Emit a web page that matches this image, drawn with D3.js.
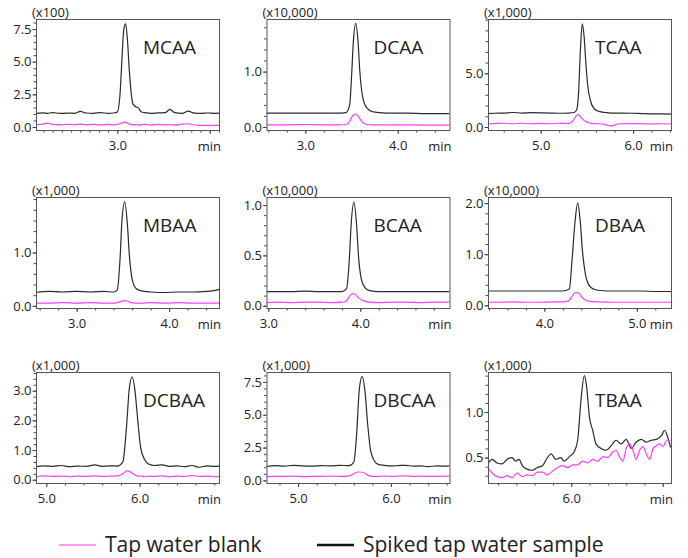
<!DOCTYPE html>
<html>
<head>
<meta charset="utf-8">
<script src="https://cdn.jsdelivr.net/npm/d3@7"></script>
<style>
body { margin: 0; background: #fff; }
text { font-family: "Open Sans", sans-serif; fill: #222; }
</style>
</head>
<body>
<div id="chartDiv"></div>
<script>

var compounds = ["MCAA", "DCAA", "TCAA", "MBAA", "BCAA", "DBAA", "DCBAA", "DBCAA", "TBAA"]
var multipliers = ["(x100)", "(x10,000)", "(x1,000)", "(x1,000)", "(x10,000)", "(x10,000)", "(x1,000)", "(x1,000)", "(x1,000)"]
var legendLabels = ["Tap water blank", "Spiked tap water sample"]

// visible window of each chromatogram (min, intensity)
var xRanges = [[2.12, 4.10], [2.58, 4.56], [4.43, 6.41], [2.56, 4.54], [2.98, 4.97], [3.39, 5.37], [4.89, 6.85], [4.66, 6.63], [5.09, 7.09]]
var yRanges = [[-0.23, 8.27], [-0.054, 1.95], [-0.28, 10.06], [-0.04, 2.04], [-0.023, 1.08], [-0.053, 2.12], [-0.11, 3.63], [-0.2, 8.26], [0.22, 1.44]]

var xTickValues = [[3, 4], [3, 4], [5, 6], [3, 4], [3, 4], [4, 5], [5, 6], [5, 6], [6, 7]]
var xMinorStep = [0.1, 0.2, 0.2, 0.2, 0.2, 0.2, 0.2, 0.2, 0.2]
var yTickValues = [[0, 2.5, 5, 7.5], [0, 1], [0, 5], [0, 1], [0, 0.5, 1], [0, 1, 2], [0, 1, 2, 3], [0, 2.5, 5, 7.5], [0.5, 1]]
var yMinorStep = [0.5, 0.2, 1, 0.2, 0.1, 0.2, 0.2, 0.5, 0.1]

var mcaaTime = [2.12, 2.2, 2.24, 2.3, 2.38, 2.46, 2.54, 2.6, 2.66, 2.74, 2.82, 2.9, 2.96, 3.0, 3.03, 3.05, 3.07, 3.09, 3.11, 3.13, 3.15, 3.17, 3.2, 3.23, 3.26, 3.3, 3.36, 3.44, 3.52, 3.57, 3.62, 3.7, 3.77, 3.82, 3.9, 3.98, 4.05, 4.1]
var mcaaSpiked = [1.05, 1.08, 1.04, 1.1, 1.04, 1.06, 1.05, 1.2, 1.07, 1.05, 1.1, 1.04, 1.07, 1.15, 2.6, 5.2, 7.5, 7.9, 6.6, 4.3, 2.6, 1.75, 1.55, 1.45, 1.15, 1.1, 1.05, 1.08, 1.1, 1.35, 1.1, 1.05, 1.22, 1.08, 1.04, 1.07, 1.05, 1.06]
var mcaaBlank = [0.18, 0.22, 0.3, 0.2, 0.17, 0.2, 0.18, 0.22, 0.17, 0.2, 0.16, 0.2, 0.17, 0.2, 0.25, 0.3, 0.35, 0.38, 0.3, 0.22, 0.2, 0.17, 0.2, 0.15, 0.18, 0.2, 0.15, 0.2, 0.17, 0.18, 0.15, 0.22, 0.25, 0.17, 0.12, 0.12, 0.12, 0.12]

var dcaaTime = [2.58, 2.8, 3.0, 3.2, 3.35, 3.44, 3.48, 3.5, 3.52, 3.545, 3.57, 3.59, 3.61, 3.64, 3.68, 3.72, 3.8, 3.95, 4.1, 4.3, 4.45, 4.56]
var dcaaSpiked = [0.25, 0.25, 0.25, 0.25, 0.25, 0.26, 0.4, 0.9, 1.55, 1.87, 1.55, 1.0, 0.65, 0.42, 0.32, 0.28, 0.26, 0.25, 0.25, 0.24, 0.24, 0.24]
var dcaaBlank = [0.04, 0.04, 0.045, 0.04, 0.04, 0.045, 0.1, 0.17, 0.22, 0.23, 0.2, 0.15, 0.1, 0.06, 0.045, 0.04, 0.04, 0.04, 0.04, 0.035, 0.035, 0.035]

var tcaaTime = [4.43, 4.5, 4.6, 4.7, 4.8, 4.9, 5.0, 5.1, 5.2, 5.3, 5.36, 5.39, 5.41, 5.43, 5.45, 5.47, 5.49, 5.51, 5.54, 5.58, 5.63, 5.7, 5.76, 5.85, 6.0, 6.1, 6.2, 6.3, 6.41]
var tcaaSpiked = [1.25, 1.28, 1.3, 1.35, 1.3, 1.33, 1.32, 1.3, 1.28, 1.3, 1.35, 1.6, 3.2, 7.2, 9.6, 8.4, 5.8, 3.8, 2.4, 1.7, 1.45, 1.35, 1.3, 1.3, 1.28, 1.25, 1.22, 1.22, 1.2]
var tcaaBlank = [0.3, 0.32, 0.35, 0.3, 0.35, 0.3, 0.33, 0.3, 0.35, 0.32, 0.7, 1.1, 1.15, 0.95, 0.75, 0.6, 0.5, 0.42, 0.36, 0.32, 0.3, 0.22, 0.1, 0.3, 0.32, 0.3, 0.28, 0.3, 0.28]

var mbaaTime = [2.56, 2.7, 2.85, 3.0, 3.15, 3.3, 3.4, 3.44, 3.47, 3.49, 3.52, 3.55, 3.57, 3.6, 3.64, 3.7, 3.8, 3.95, 4.1, 4.25, 4.4, 4.5, 4.54]
var mbaaSpiked = [0.25, 0.27, 0.26, 0.27, 0.26, 0.27, 0.26, 0.3, 0.9, 1.6, 1.95, 1.5, 0.95, 0.5, 0.33, 0.28, 0.26, 0.25, 0.26, 0.26, 0.27, 0.29, 0.31]
var mbaaBlank = [0.05, 0.05, 0.06, 0.05, 0.06, 0.05, 0.05, 0.06, 0.08, 0.09, 0.1, 0.09, 0.07, 0.06, 0.05, 0.05, 0.06, 0.05, 0.06, 0.05, 0.05, 0.05, 0.05]

var bcaaTime = [2.98, 3.1, 3.25, 3.4, 3.55, 3.7, 3.8, 3.85, 3.88, 3.9, 3.93, 3.96, 3.98, 4.01, 4.05, 4.1, 4.2, 4.35, 4.5, 4.65, 4.8, 4.97]
var bcaaSpiked = [0.14, 0.14, 0.14, 0.145, 0.14, 0.14, 0.14, 0.17, 0.45, 0.8, 1.03, 0.8, 0.5, 0.27, 0.18, 0.15, 0.14, 0.14, 0.14, 0.14, 0.14, 0.14]
var bcaaBlank = [0.03, 0.035, 0.03, 0.035, 0.035, 0.03, 0.035, 0.05, 0.09, 0.11, 0.12, 0.1, 0.08, 0.06, 0.045, 0.035, 0.03, 0.035, 0.035, 0.03, 0.035, 0.035]

var dbaaTime = [3.39, 3.5, 3.65, 3.8, 3.95, 4.1, 4.2, 4.27, 4.3, 4.33, 4.36, 4.39, 4.41, 4.44, 4.48, 4.53, 4.6, 4.75, 4.9, 5.05, 5.2, 5.37]
var dbaaSpiked = [0.28, 0.28, 0.28, 0.28, 0.28, 0.28, 0.28, 0.32, 0.9, 1.6, 2.0, 1.6, 1.1, 0.65, 0.4, 0.32, 0.29, 0.28, 0.28, 0.28, 0.27, 0.27]
var dbaaBlank = [0.06, 0.06, 0.065, 0.06, 0.06, 0.065, 0.065, 0.1, 0.18, 0.24, 0.25, 0.2, 0.15, 0.11, 0.08, 0.07, 0.065, 0.06, 0.06, 0.06, 0.06, 0.06]

var dcbaaTime = [4.89, 4.98, 5.07, 5.16, 5.25, 5.34, 5.43, 5.52, 5.6, 5.68, 5.76, 5.82, 5.86, 5.89, 5.92, 5.95, 5.98, 6.01, 6.05, 6.1, 6.16, 6.24, 6.32, 6.4, 6.48, 6.56, 6.64, 6.72, 6.8, 6.85]
var dcbaaSpiked = [0.44, 0.47, 0.45, 0.48, 0.44, 0.46, 0.45, 0.5, 0.45, 0.47, 0.46, 0.6, 1.8, 3.1, 3.47, 3.0, 2.0, 1.1, 0.7, 0.52, 0.48, 0.5, 0.45, 0.47, 0.44, 0.48, 0.42, 0.47, 0.45, 0.46]
var dcbaaBlank = [0.1, 0.13, 0.11, 0.12, 0.1, 0.12, 0.11, 0.13, 0.11, 0.12, 0.13, 0.2, 0.3, 0.28, 0.22, 0.16, 0.12, 0.13, 0.1, 0.12, 0.11, 0.13, 0.1, 0.12, 0.11, 0.14, 0.11, 0.12, 0.1, 0.11]

var dbcaaTime = [4.66, 4.75, 4.85, 4.95, 5.05, 5.15, 5.25, 5.35, 5.45, 5.55, 5.6, 5.63, 5.66, 5.69, 5.72, 5.75, 5.78, 5.82, 5.87, 5.93, 6.0, 6.08, 6.16, 6.24, 6.32, 6.4, 6.5, 6.58, 6.63]
var dbcaaSpiked = [1.05, 1.12, 1.08, 1.15, 1.1, 1.08, 1.13, 1.1, 1.15, 1.12, 1.4, 3.5, 7.0, 7.9, 6.8, 4.2, 2.3, 1.5, 1.2, 1.15, 1.1, 1.13, 1.15, 1.08, 1.1, 1.05, 1.1, 1.08, 1.1]
var dbcaaBlank = [0.28, 0.3, 0.3, 0.32, 0.28, 0.3, 0.3, 0.33, 0.3, 0.35, 0.5, 0.62, 0.64, 0.62, 0.55, 0.4, 0.32, 0.3, 0.3, 0.33, 0.3, 0.32, 0.35, 0.3, 0.32, 0.3, 0.3, 0.32, 0.3]

var tbaaTime = [5.088, 5.135, 5.19, 5.245, 5.30, 5.355, 5.39, 5.43, 5.465, 5.52, 5.575, 5.63, 5.685, 5.74, 5.78, 5.83, 5.887, 5.92, 5.98, 6.03, 6.07, 6.106, 6.143, 6.168, 6.198, 6.234, 6.27, 6.326, 6.38, 6.436, 6.49, 6.546, 6.6, 6.656, 6.71, 6.766, 6.82, 6.876, 6.93, 6.986, 7.02, 7.058, 7.085]
var tbaaSpiked = [0.43, 0.48, 0.44, 0.43, 0.48, 0.50, 0.46, 0.48, 0.41, 0.37, 0.36, 0.39, 0.41, 0.50, 0.54, 0.48, 0.50, 0.46, 0.51, 0.56, 0.69, 1.13, 1.40, 1.28, 0.95, 0.80, 0.65, 0.60, 0.58, 0.63, 0.69, 0.65, 0.70, 0.60, 0.67, 0.70, 0.67, 0.69, 0.70, 0.74, 0.80, 0.71, 0.61]
var tbaaBlankTime = [5.088, 5.135, 5.19, 5.245, 5.30, 5.355, 5.41, 5.465, 5.52, 5.575, 5.63, 5.685, 5.74, 5.795, 5.85, 5.905, 5.96, 6.015, 6.07, 6.125, 6.18, 6.234, 6.29, 6.344, 6.40, 6.454, 6.49, 6.527, 6.564, 6.60, 6.637, 6.674, 6.71, 6.747, 6.784, 6.82, 6.857, 6.894, 6.93, 6.967, 7.004, 7.04, 7.085]
var tbaaBlank = [0.39, 0.33, 0.29, 0.28, 0.30, 0.28, 0.33, 0.29, 0.31, 0.30, 0.34, 0.34, 0.31, 0.35, 0.39, 0.41, 0.39, 0.42, 0.42, 0.46, 0.44, 0.48, 0.46, 0.51, 0.50, 0.56, 0.58, 0.51, 0.46, 0.60, 0.65, 0.58, 0.48, 0.58, 0.62, 0.54, 0.48, 0.60, 0.63, 0.65, 0.62, 0.69, 0.69]


;(function() {

	var width = 688;
	var height = 558;
	var colLeft = [36, 266.5, 488];
	var rowTop = [19, 197, 372];
	var boxW = 183;
	var boxH = 111;

	var spikedColor = "#2a2a2a";
	var blankColor = "#ff3cff";

	var spikedSeries = [
		[mcaaTime, mcaaSpiked], [dcaaTime, dcaaSpiked], [tcaaTime, tcaaSpiked],
		[mbaaTime, mbaaSpiked], [bcaaTime, bcaaSpiked], [dbaaTime, dbaaSpiked],
		[dcbaaTime, dcbaaSpiked], [dbcaaTime, dbcaaSpiked], [tbaaTime, tbaaSpiked]
	];
	var blankSeries = [
		[mcaaTime, mcaaBlank], [dcaaTime, dcaaBlank], [tcaaTime, tcaaBlank],
		[mbaaTime, mbaaBlank], [bcaaTime, bcaaBlank], [dbaaTime, dbaaBlank],
		[dcbaaTime, dcbaaBlank], [dbcaaTime, dbcaaBlank], [tbaaBlankTime, tbaaBlank]
	];

	var chart = d3.select("#chartDiv").append("svg")
		.attr("width", width)
		.attr("height", height);

	var fmt = d3.format(".1f");

	function toPoints(pair) {
		return pair[0].map(function(t, i) { return { t: t, v: pair[1][i] }; });
	}

	function minorTicks(domain, step) {
		var out = [];
		var start = Math.ceil(domain[0] / step - 1e-6);
		for (var k = start; k * step <= domain[1] + 1e-9; k++) out.push(+(k * step).toFixed(4));
		return out;
	}

	compounds.forEach(function(name, i) {
		var left = colLeft[i % 3];
		var top = rowTop[Math.floor(i / 3)];

		var g = chart.append("g")
			.attr("transform", "translate(" + left + "," + top + ")");

		var x = d3.scaleLinear().domain(xRanges[i]).range([0, boxW]);
		var y = d3.scaleLinear().domain(yRanges[i]).range([boxH, 0]);

		g.append("clipPath").attr("id", "clip" + i)
			.append("rect").attr("width", boxW).attr("height", boxH);

		// minor ticks first, then labelled ones
		var xMinor = d3.axisBottom(x).tickValues(minorTicks(xRanges[i], xMinorStep[i])).tickSize(2.5).tickFormat("");
		var xMajor = d3.axisBottom(x).tickValues(xTickValues[i].filter(function(d) { return d >= xRanges[i][0] && d <= xRanges[i][1]; }))
			.tickSize(4).tickPadding(7)
			.tickFormat(function(d) { return x(d) > boxW - 22 ? "" : fmt(d); });
		var yMinor = d3.axisLeft(y).tickValues(minorTicks(yRanges[i], yMinorStep[i])).tickSize(2.5).tickFormat("");
		var yMajor = d3.axisLeft(y).tickValues(yTickValues[i]).tickSize(3.5).tickPadding(1).tickFormat(fmt);

		[[xMinor, "0," + boxH], [xMajor, "0," + boxH], [yMinor, "0,0"], [yMajor, "0,0"]].forEach(function(a) {
			var ax = g.append("g")
				.attr("transform", "translate(" + a[1] + ")")
				.call(a[0]);
			ax.select(".domain").remove();
			ax.selectAll("line").attr("stroke", "#444");
			ax.selectAll("text")
				.style("font-family", "'Open Sans', sans-serif")
				.style("font-size", "13px")
				.attr("fill", "#222");
		});

		var line = d3.line()
			.x(function(d) { return x(d.t); })
			.y(function(d) { return y(d.v); })
			.curve(d3.curveMonotoneX);

		var plot = g.append("g").attr("clip-path", "url(#clip" + i + ")");

		plot.append("path")
			.datum(toPoints(spikedSeries[i]))
			.attr("fill", "none")
			.attr("stroke", spikedColor)
			.attr("stroke-width", 1.2)
			.attr("d", line);

		plot.append("path")
			.datum(toPoints(blankSeries[i]))
			.attr("fill", "none")
			.attr("stroke", blankColor)
			.attr("stroke-width", 1.2)
			.attr("d", line);

		g.append("rect")
			.attr("x", 0.5).attr("y", 0.5)
			.attr("width", boxW).attr("height", boxH)
			.attr("fill", "none")
			.attr("stroke", "#555")
			.attr("stroke-width", 1);

		g.append("text")
			.attr("x", -4).attr("y", -2)
			.style("font-size", "13px")
			.text(multipliers[i]);

		g.append("text")
			.attr("x", boxW + 2).attr("y", boxH + 20.5)
			.attr("text-anchor", "end")
			.style("font-size", "13px")
			.text("min");

		g.append("text")
			.attr("x", 107).attr("y", 35)
			.style("font-size", "19px")
			.text(name);
	});

	// legend
	var legend = chart.append("g").attr("class", "legend");
	var legendX = [59, 317];
	var legendColors = ["#ff99f0", "#111"];
	var legendWidths = [2, 2.5];
	legendLabels.forEach(function(label, i) {
		legend.append("line")
			.attr("x1", legendX[i]).attr("x2", legendX[i] + 37)
			.attr("y1", 545).attr("y2", 545)
			.attr("stroke", legendColors[i])
			.attr("stroke-width", legendWidths[i]);
		legend.append("text")
			.attr("x", legendX[i] + 46).attr("y", 552)
			.style("font-size", "21px")
			.text(label);
	});

})();
</script>
</body>
</html>
